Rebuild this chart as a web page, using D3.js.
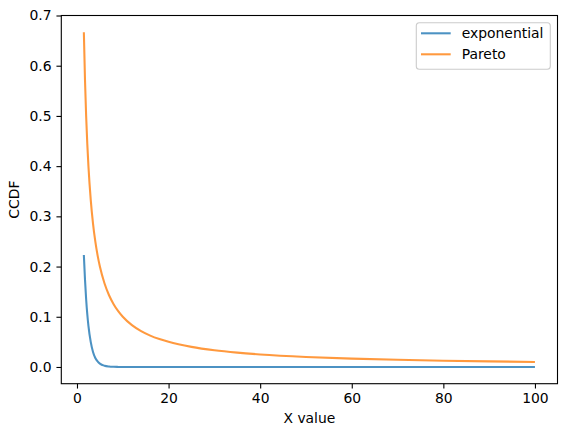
<!DOCTYPE html>
<html>
<head>
<meta charset="utf-8">
<script src="https://cdn.jsdelivr.net/npm/d3@7"></script>
<style>
  body { margin: 0; background: #fff; }
  text { font-family: "DejaVu Sans", sans-serif; fill: #000; }
</style>
</head>
<body>
<div id="chart"></div>
<script>
// values
var xValues = [1.5, 1.75, 2, 2.25, 2.5, 3, 3.5, 4, 4.5, 5, 6, 7, 8, 9, 10,
               12, 14, 16, 18, 20, 25, 30, 35, 40, 50, 60, 70, 80, 90, 100];
var paretoCCDF = [0.6667, 0.5714, 0.5, 0.4444, 0.4, 0.3333, 0.2857, 0.25, 0.2222, 0.2,
                  0.1667, 0.1429, 0.125, 0.1111, 0.1, 0.0833, 0.0714, 0.0625, 0.0556, 0.05,
                  0.04, 0.0333, 0.0286, 0.025, 0.02, 0.0167, 0.0143, 0.0125, 0.0111, 0.01];
var expCCDF = [0.223, 0.174, 0.135, 0.105, 0.082, 0.050, 0.030, 0.018, 0.011, 0.0067,
               0.0025, 0.0009, 0.0003, 0.0001, 0, 0, 0, 0, 0, 0,
               0, 0, 0, 0, 0, 0, 0, 0, 0, 0];
var seriesNames = ["exponential", "Pareto"];
var seriesColors = ["#1f77b4", "#ff7f0e"];
var xTicks = [0, 20, 40, 60, 80, 100];
var yTicks = [0, 0.1, 0.2, 0.3, 0.4, 0.5, 0.6, 0.7];

var W = 567, H = 438;
var margin = { top: 15.5, right: 9.5, bottom: 54.3, left: 61.3 },
    width = W - margin.left - margin.right,
    height = H - margin.top - margin.bottom;
var fontSize = "13.9px";

var svg = d3.select("#chart").append("svg")
    .attr("width", W)
    .attr("height", H);

var chart = svg.append("g")
    .attr("transform", "translate(" + margin.left + "," + margin.top + ")");

var xScale = d3.scaleLinear()
    .domain([-3.425, 104.925])
    .range([0, width]);

var yScale = d3.scaleLinear()
    .domain([-0.0333, 0.7])
    .range([height, 0]);

// lines
var series = [expCCDF, paretoCCDF];
var lineGen = d3.line()
    .x(function(d) { return xScale(d[0]); })
    .y(function(d) { return yScale(d[1]); })
    .curve(d3.curveMonotoneX);

series.forEach(function(vals, i) {
    var pts = xValues.map(function(x, j) { return [x, vals[j]]; });
    chart.append("path")
        .attr("d", lineGen(pts))
        .attr("fill", "none")
        .attr("stroke", seriesColors[i])
        .attr("stroke-opacity", 0.8)
        .attr("stroke-width", 2.08);
});

// axes
var xAxis = chart.append("g")
    .attr("transform", "translate(0," + height + ")")
    .call(d3.axisBottom(xScale).tickValues(xTicks).tickSize(4.86).tickPadding(4.86).tickFormat(d3.format("d")));

var yAxis = chart.append("g")
    .call(d3.axisLeft(yScale).tickValues(yTicks).tickSize(4.86).tickPadding(4.86).tickFormat(d3.format(".1f")));

[xAxis, yAxis].forEach(function(a) {
    a.select(".domain").remove();
    a.selectAll(".tick line").attr("stroke", "#000").attr("stroke-width", 1.1);
    a.selectAll(".tick text")
        .style("font-family", "'DejaVu Sans', sans-serif")
        .style("font-size", fontSize)
        .attr("fill", "#000");
});

// frame
chart.append("rect")
    .attr("x", 0).attr("y", 0)
    .attr("width", width).attr("height", height)
    .attr("fill", "none")
    .attr("stroke", "#000")
    .attr("stroke-width", 1.1);

// axis labels
chart.append("text")
    .attr("x", width / 2)
    .attr("y", height + 39.5)
    .attr("text-anchor", "middle")
    .style("font-size", fontSize)
    .text("X value");

chart.append("text")
    .attr("transform", "rotate(-90)")
    .attr("x", -height / 2)
    .attr("y", -42.5)
    .attr("text-anchor", "middle")
    .style("font-size", fontSize)
    .text("CCDF");

// legend
var legend = svg.append("g").attr("transform", "translate(416.3,22.7)");
legend.append("rect")
    .attr("width", 134)
    .attr("height", 46.6)
    .attr("rx", 3).attr("ry", 3)
    .attr("fill", "#fff")
    .attr("fill-opacity", 0.8)
    .attr("stroke", "#cccccc")
    .attr("stroke-width", 1.1);

seriesNames.forEach(function(name, i) {
    var y = 10.6 + i * 21;
    legend.append("line")
        .attr("x1", 4.7).attr("x2", 34.4)
        .attr("y1", y).attr("y2", y)
        .attr("stroke", seriesColors[i])
        .attr("stroke-opacity", 0.8)
        .attr("stroke-width", 2.08);
    legend.append("text")
        .attr("x", 45.4)
        .attr("y", y + 4.9)
        .style("font-size", fontSize)
        .text(name);
});
</script>
</body>
</html>
